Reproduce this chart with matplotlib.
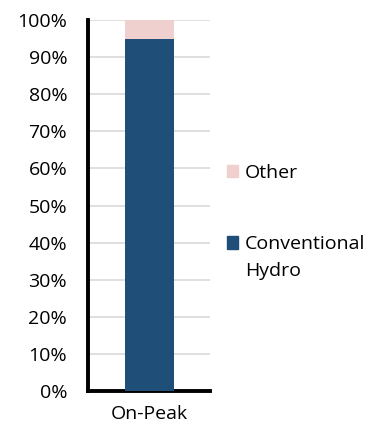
import matplotlib.pyplot as plt
from matplotlib.patches import Patch
from matplotlib.ticker import PercentFormatter

categories = ['On-Peak']
hydro = [95]
other = [5]

plt.rcParams['font.family'] = ['Open Sans', 'DejaVu Sans']

fig = plt.figure(figsize=(3.76, 4.30), dpi=100)
ax = fig.add_axes([0.234, 0.091, 0.325, 0.862])

c_hydro = '#1F4E79'
c_other = '#F0CFCF'

ax.bar(categories, hydro, width=0.4, color=c_hydro, zorder=3)
ax.bar(categories, other, width=0.4, bottom=hydro, color=c_other, zorder=3)

ax.set_xlim(-0.5, 0.5)
ax.set_ylim(0, 100)
ax.set_yticks(range(0, 101, 10))
ax.yaxis.set_major_formatter(PercentFormatter(decimals=0))
ax.grid(axis='y', color='#D9D9D9', linewidth=1.2, zorder=0)
ax.tick_params(axis='both', length=0, labelsize=14)
ax.tick_params(axis='y', pad=15)
ax.tick_params(axis='x', pad=10)

for side in ['top', 'right']:
    ax.spines[side].set_visible(False)
for side in ['left', 'bottom']:
    ax.spines[side].set_linewidth(2.8)
    ax.spines[side].set_color('black')

# legend square sits beside the first line of the wrapped label
handles = [Patch(color=c_other, label='Other'),
           Patch(color=c_hydro, label='Conventional')]
leg = fig.legend(handles=handles, loc='upper left', bbox_to_anchor=(0.556, 0.66),
                 frameon=False, fontsize=14, handlelength=0.6, handleheight=0.6,
                 handletextpad=0.35, labelspacing=2.76)
fig.canvas.draw()
conv = leg.get_texts()[1]
bb = conv.get_window_extent().transformed(fig.transFigure.inverted())
fig.text(bb.x0, bb.y0 + bb.height / 2 - 27 / 430, 'Hydro', fontsize=14,
         va='center', ha='left')

fig.savefig('out.png', dpi=100)
